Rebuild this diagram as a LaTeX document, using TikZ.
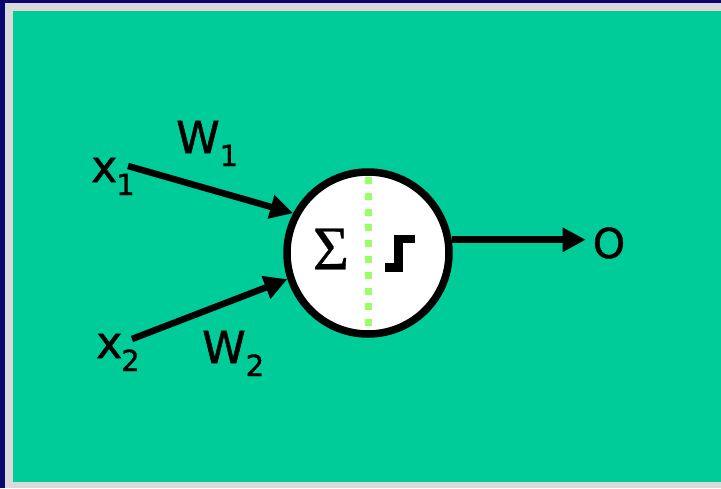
\documentclass[tikz,border=0pt]{standalone}
\usepackage{fontspec}
\setmainfont[FakeBold=1.2]{DejaVu Sans}
\newfontfamily\sigmafont[FakeBold=0.5]{Liberation Serif}
\usetikzlibrary{arrows.meta}
\definecolor{navyframe}{RGB}{10,6,112}
\definecolor{grayframe}{RGB}{218,218,218}
\definecolor{tealbg}{RGB}{0,204,153}
\definecolor{dotgreen}{RGB}{153,255,102}
\tikzset{
  lbl/.style={anchor=base west, inner sep=0pt, text=black, font=\fontsize{44}{44}\selectfont},
  wire/.style={line width=6.5pt, draw=black, -{Triangle[length=23pt,width=23pt]}},
  neuron/.style={circle, draw=black, fill=white, line width=7.5pt, minimum size=162pt, inner sep=0pt},
}
\newcommand{\subtxt}[1]{\raisebox{-13pt}{\fontsize{29}{29}\selectfont #1}}
\begin{document}
\begin{tikzpicture}[x=1pt, y=-1pt]
  \useasboundingbox (0,0) rectangle (721,488);
  \fill[navyframe] (0,0) rectangle (721,488);
  \fill[grayframe] (5,3) rectangle (721,488);
  \fill[tealbg] (13,11) rectangle (721,482);

  \node[neuron] (n) at (368,253) {};
  \draw[dotgreen, line width=7pt, dash pattern=on 7pt off 8.8pt] (368,177) -- (368,330);
  \node[inner sep=0pt, font=\sigmafont\fontsize{62}{62}\selectfont] (sig) at (331,249) {Σ};
  \draw[line width=8.5pt, miter limit=10] (385,267.5) -- (398.5,267.5) -- (398.5,239) -- (415,239);

  \node[lbl] (x1) at (91,182) {x\kern-1pt\subtxt{1}};
  \node[lbl] (w1) at (176,153) {W\subtxt{1}};
  \node[lbl] (x2) at (96,358) {x\kern-1pt\subtxt{2}};
  \node[lbl] (w2) at (202,363) {W\subtxt{2}};
  \node[inner sep=0pt, font=\fontsize{41}{41}\selectfont] (o) at (609,243) {O};

  \coordinate (s1) at (128,166);
  \coordinate (s2) at (132,339);
  \draw[wire] (s1) -- (n.152);
  \draw[wire] (s2) -- (n.198);
  \draw[wire] (n.9) -- ([xshift=-7pt]o.west |- n.9);
\end{tikzpicture}
\end{document}
